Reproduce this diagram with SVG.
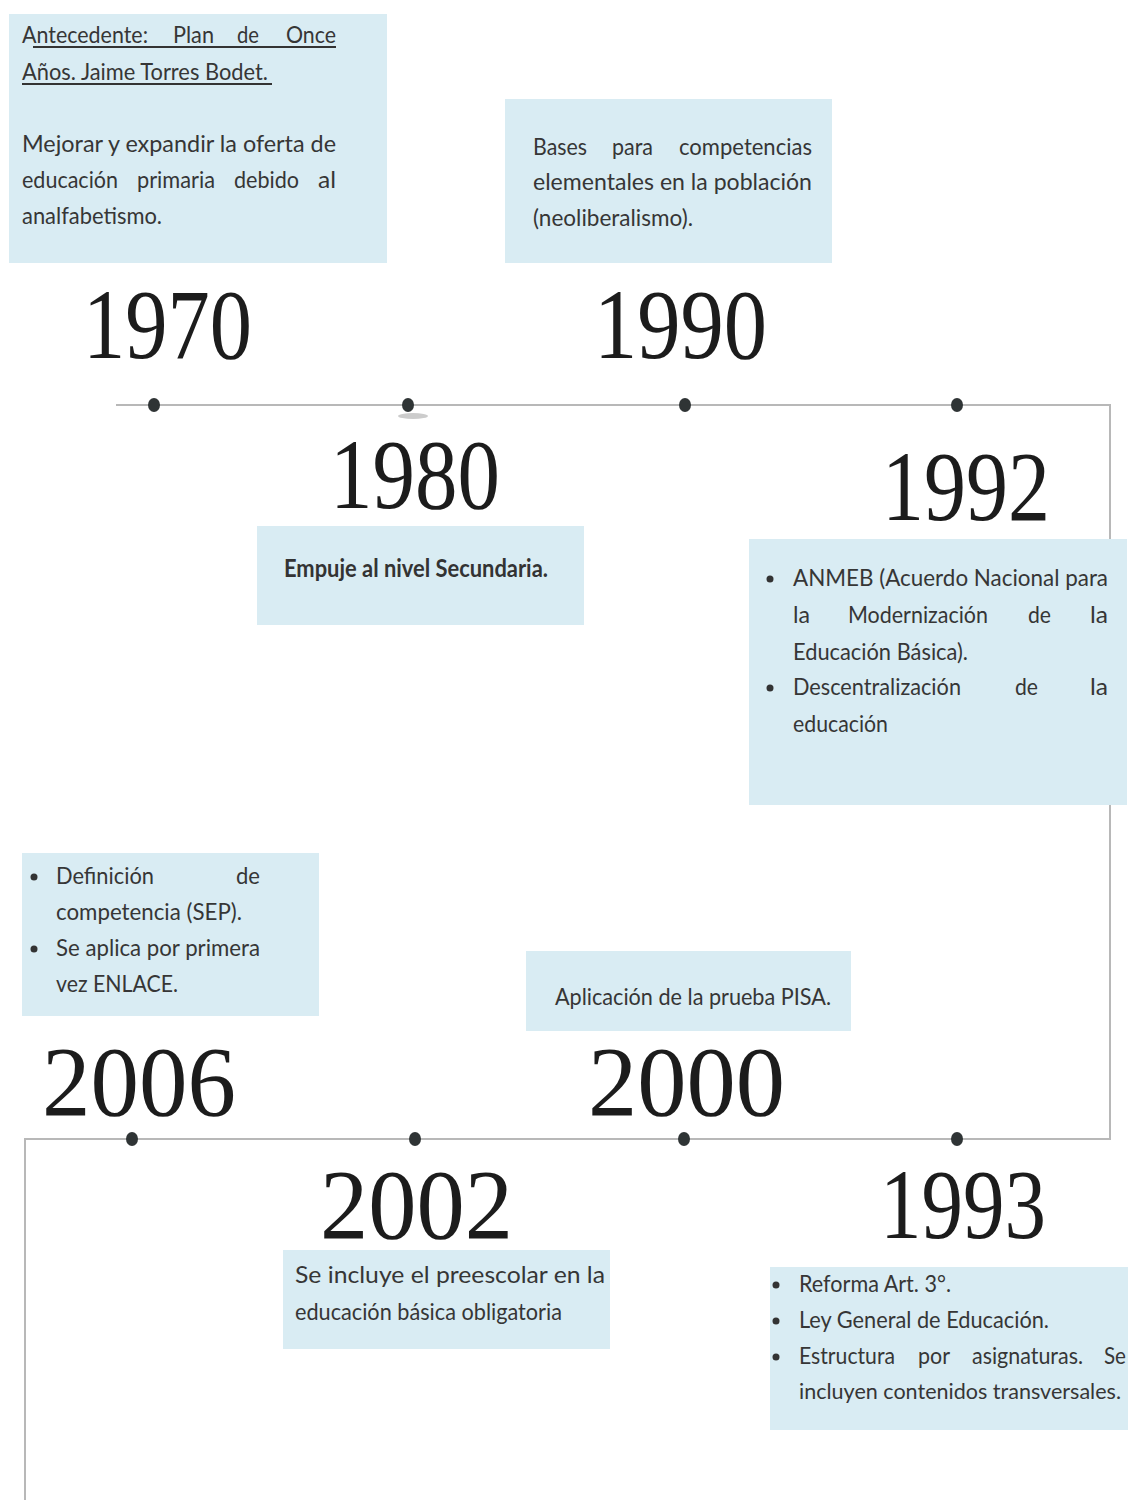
<svg xmlns="http://www.w3.org/2000/svg" width="1135" height="1500" viewBox="0 0 1135 1500">
<style>
.box{fill:#d9ecf3}
.yr{font-family:"Liberation Serif","DejaVu Serif",serif;font-size:100px;fill:#1c1c1c}
.t{font-family:Lato,"Open Sans",sans-serif;font-size:24px;fill:#363636}
.b{font-weight:bold;fill:#333}
.ln{fill:none;stroke:#b8b8b8;stroke-width:2}
.dot{fill:#2f3435}
.bul{fill:#333}
.ul{stroke:#333;stroke-width:2.2}
</style>
<rect width="1135" height="1500" fill="#ffffff"/>
<g id="connectors">
<polyline class="ln" points="116,405 1110,405 1110,1139 25,1139 25,1500"/>
<ellipse cx="413" cy="416" rx="15" ry="3" fill="#999" opacity="0.5"/>
<ellipse class="dot" cx="154" cy="405" rx="6" ry="7"/>
<ellipse class="dot" cx="408" cy="405" rx="6" ry="7"/>
<ellipse class="dot" cx="685" cy="405" rx="6" ry="7"/>
<ellipse class="dot" cx="957" cy="405" rx="6" ry="7"/>
<ellipse class="dot" cx="132" cy="1139" rx="6" ry="7"/>
<ellipse class="dot" cx="415" cy="1139" rx="6" ry="7"/>
<ellipse class="dot" cx="684" cy="1139" rx="6" ry="7"/>
<ellipse class="dot" cx="957" cy="1139" rx="6" ry="7"/>
</g>
<g id="n1970">
<rect class="box" x="9" y="14" width="378" height="249"/>
<text class="t" x="22" y="43" textLength="126" lengthAdjust="spacingAndGlyphs">Antecedente:</text>
<text class="t" x="173" y="43" textLength="41" lengthAdjust="spacingAndGlyphs">Plan</text>
<text class="t" x="237" y="43" textLength="22" lengthAdjust="spacingAndGlyphs">de</text>
<text class="t" x="286" y="43" textLength="50" lengthAdjust="spacingAndGlyphs">Once</text>
<line class="ul" x1="33" y1="47" x2="336" y2="47"/>
<text class="t" x="22" y="80" textLength="246" lengthAdjust="spacingAndGlyphs">Años. Jaime Torres Bodet.</text>
<line class="ul" x1="22" y1="84" x2="272" y2="84"/>
<text class="t" x="22" y="152" textLength="314" lengthAdjust="spacingAndGlyphs">Mejorar y expandir la oferta de</text>
<text class="t" x="22" y="188" textLength="96" lengthAdjust="spacingAndGlyphs">educación</text>
<text class="t" x="137" y="188" textLength="78" lengthAdjust="spacingAndGlyphs">primaria</text>
<text class="t" x="234" y="188" textLength="65" lengthAdjust="spacingAndGlyphs">debido</text>
<text class="t" x="318" y="188" textLength="18" lengthAdjust="spacingAndGlyphs">al</text>
<text class="t" x="22" y="224" textLength="140" lengthAdjust="spacingAndGlyphs">analfabetismo.</text>
<text class="yr" x="83" y="358" textLength="169" lengthAdjust="spacingAndGlyphs">1970</text>
</g>
<g id="n1990">
<rect class="box" x="505" y="99" width="327" height="164"/>
<text class="t" x="533" y="155" textLength="54" lengthAdjust="spacingAndGlyphs">Bases</text>
<text class="t" x="612" y="155" textLength="41" lengthAdjust="spacingAndGlyphs">para</text>
<text class="t" x="679" y="155" textLength="133" lengthAdjust="spacingAndGlyphs">competencias</text>
<text class="t" x="533" y="190" textLength="279" lengthAdjust="spacingAndGlyphs">elementales en la población</text>
<text class="t" x="533" y="226" textLength="160" lengthAdjust="spacingAndGlyphs">(neoliberalismo).</text>
<text class="yr" x="594" y="358" textLength="173" lengthAdjust="spacingAndGlyphs">1990</text>
</g>
<g id="n1980">
<text class="yr" x="330" y="508" textLength="170" lengthAdjust="spacingAndGlyphs">1980</text>
<rect class="box" x="257" y="526" width="327" height="99"/>
<text class="t b" x="284" y="577" textLength="264" lengthAdjust="spacingAndGlyphs">Empuje al nivel Secundaria.</text>
</g>
<g id="n1992">
<text class="yr" x="882" y="520" textLength="168" lengthAdjust="spacingAndGlyphs">1992</text>
<rect class="box" x="749" y="539" width="378" height="266"/>
<circle class="bul" cx="770" cy="579" r="3.5"/>
<text class="t" x="793" y="586" textLength="315" lengthAdjust="spacingAndGlyphs">ANMEB (Acuerdo Nacional para</text>
<text class="t" x="793" y="623" textLength="17" lengthAdjust="spacingAndGlyphs">la</text>
<text class="t" x="848" y="623" textLength="140" lengthAdjust="spacingAndGlyphs">Modernización</text>
<text class="t" x="1028" y="623" textLength="23" lengthAdjust="spacingAndGlyphs">de</text>
<text class="t" x="1090" y="623" textLength="18" lengthAdjust="spacingAndGlyphs">la</text>
<text class="t" x="793" y="660" textLength="175" lengthAdjust="spacingAndGlyphs">Educación Básica).</text>
<circle class="bul" cx="770" cy="688" r="3.5"/>
<text class="t" x="793" y="695" textLength="168" lengthAdjust="spacingAndGlyphs">Descentralización</text>
<text class="t" x="1015" y="695" textLength="23" lengthAdjust="spacingAndGlyphs">de</text>
<text class="t" x="1090" y="695" textLength="18" lengthAdjust="spacingAndGlyphs">la</text>
<text class="t" x="793" y="732" textLength="95" lengthAdjust="spacingAndGlyphs">educación</text>
</g>
<g id="n2006">
<rect class="box" x="22" y="853" width="297" height="163"/>
<circle class="bul" cx="34" cy="877" r="3.5"/>
<text class="t" x="56" y="884" textLength="98" lengthAdjust="spacingAndGlyphs">Definición</text>
<text class="t" x="236" y="884" textLength="24" lengthAdjust="spacingAndGlyphs">de</text>
<text class="t" x="56" y="920" textLength="186" lengthAdjust="spacingAndGlyphs">competencia (SEP).</text>
<circle class="bul" cx="34" cy="949" r="3.5"/>
<text class="t" x="56" y="956" textLength="204" lengthAdjust="spacingAndGlyphs">Se aplica por primera</text>
<text class="t" x="56" y="992" textLength="122" lengthAdjust="spacingAndGlyphs">vez ENLACE.</text>
<text class="yr" x="42" y="1115" textLength="194" lengthAdjust="spacingAndGlyphs">2006</text>
</g>
<g id="n2000">
<rect class="box" x="526" y="951" width="325" height="80"/>
<text class="t" x="555" y="1005" textLength="276" lengthAdjust="spacingAndGlyphs">Aplicación de la prueba PISA.</text>
<text class="yr" x="588" y="1115" textLength="197" lengthAdjust="spacingAndGlyphs">2000</text>
</g>
<g id="n2002">
<text class="yr" x="320" y="1238" textLength="193" lengthAdjust="spacingAndGlyphs">2002</text>
<rect class="box" x="283" y="1250" width="327" height="99"/>
<text class="t" x="295" y="1283" textLength="310" lengthAdjust="spacingAndGlyphs">Se incluye el preescolar en la</text>
<text class="t" x="295" y="1320" textLength="267" lengthAdjust="spacingAndGlyphs">educación básica obligatoria</text>
</g>
<g id="n1993">
<text class="yr" x="880" y="1238" textLength="166" lengthAdjust="spacingAndGlyphs">1993</text>
<rect class="box" x="770" y="1267" width="358" height="163"/>
<circle class="bul" cx="776" cy="1285" r="3.5"/>
<text class="t" x="799" y="1292" textLength="152" lengthAdjust="spacingAndGlyphs">Reforma Art. 3°.</text>
<circle class="bul" cx="776" cy="1321" r="3.5"/>
<text class="t" x="799" y="1328" textLength="250" lengthAdjust="spacingAndGlyphs">Ley General de Educación.</text>
<circle class="bul" cx="776" cy="1357" r="3.5"/>
<text class="t" x="799" y="1364" textLength="96" lengthAdjust="spacingAndGlyphs">Estructura</text>
<text class="t" x="918" y="1364" textLength="32" lengthAdjust="spacingAndGlyphs">por</text>
<text class="t" x="972" y="1364" textLength="111" lengthAdjust="spacingAndGlyphs">asignaturas.</text>
<text class="t" x="1104" y="1364" textLength="22" lengthAdjust="spacingAndGlyphs">Se</text>
<text class="t" x="799" y="1399" style="font-size:22px" textLength="322" lengthAdjust="spacingAndGlyphs">incluyen contenidos transversales.</text>
</g>
</svg>
